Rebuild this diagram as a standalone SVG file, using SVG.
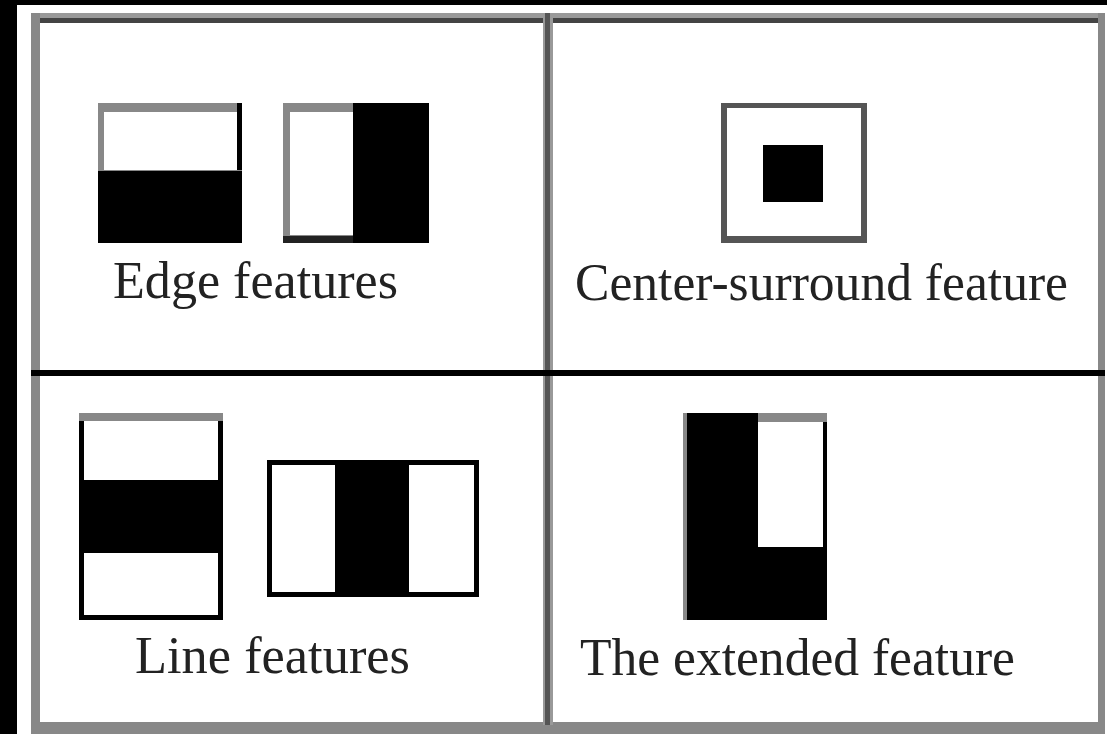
<svg xmlns="http://www.w3.org/2000/svg" width="1107" height="734" viewBox="0 0 1107 734">
<style>
.lbl{font-family:"Liberation Serif","Times New Roman",serif;font-size:52px;fill:#222}
.blk{fill:#000}
.wht{fill:#fff}
.gry{fill:#888}
</style>
<rect width="1107" height="734" fill="#000"/>
<rect x="17" y="5" width="1090" height="729" fill="#fff"/>
<g id="frame">
<rect x="31" y="13" width="1074" height="6" fill="#999"/>
<rect x="31" y="18" width="1074" height="5" fill="#444"/>
<rect x="31" y="13" width="9" height="721" fill="#888"/>
<rect x="1098" y="13" width="7" height="721" fill="#888"/>
<rect x="31" y="722" width="1074" height="12" fill="#888"/>
<rect x="543" y="13" width="10" height="712" fill="#999"/>
<rect x="545" y="13" width="5" height="712" fill="#555"/>
<rect x="31" y="370" width="1074" height="6" fill="#000"/>
</g>
<g id="edge1">
<rect x="98" y="103" width="144" height="140" class="gry"/>
<rect x="104" y="112" width="133" height="58" class="wht"/>
<rect x="237" y="103" width="5" height="67" class="blk"/>
<rect x="98" y="171" width="144" height="72" class="blk"/>
</g>
<g id="edge2">
<rect x="283" y="103" width="70" height="140" class="gry"/>
<rect x="290" y="112" width="63" height="123" class="wht"/>
<rect x="353" y="103" width="76" height="140" class="blk"/>
<rect x="283" y="236" width="70" height="7" fill="#222"/>
</g>
<g id="center">
<rect x="721" y="103" width="146" height="140" fill="#555"/>
<rect x="727" y="108" width="134" height="128" class="wht"/>
<rect x="763" y="145" width="60" height="57" class="blk"/>
</g>
<g id="line1">
<rect x="79" y="413" width="144" height="207" class="blk"/>
<rect x="79" y="413" width="144" height="8" class="gry"/>
<rect x="84" y="421" width="134" height="59" class="wht"/>
<rect x="84" y="553" width="134" height="62" class="wht"/>
</g>
<g id="line2">
<rect x="267" y="460" width="212" height="137" class="blk"/>
<rect x="272" y="465" width="63" height="127" class="wht"/>
<rect x="409" y="465" width="65" height="127" class="wht"/>
</g>
<g id="extended">
<rect x="683" y="413" width="144" height="207" class="blk"/>
<rect x="683" y="413" width="4" height="207" class="gry"/>
<rect x="758" y="413" width="69" height="9" class="gry"/>
<rect x="758" y="422" width="65" height="125" class="wht"/>
</g>
<g id="labels">
<text class="lbl" x="113" y="298" textLength="285" lengthAdjust="spacingAndGlyphs">Edge features</text>
<text class="lbl" x="575" y="300" textLength="493" lengthAdjust="spacingAndGlyphs">Center-surround feature</text>
<text class="lbl" x="135" y="673" textLength="275" lengthAdjust="spacingAndGlyphs">Line features</text>
<text class="lbl" x="580" y="675" textLength="435" lengthAdjust="spacingAndGlyphs">The extended feature</text>
</g>
</svg>
